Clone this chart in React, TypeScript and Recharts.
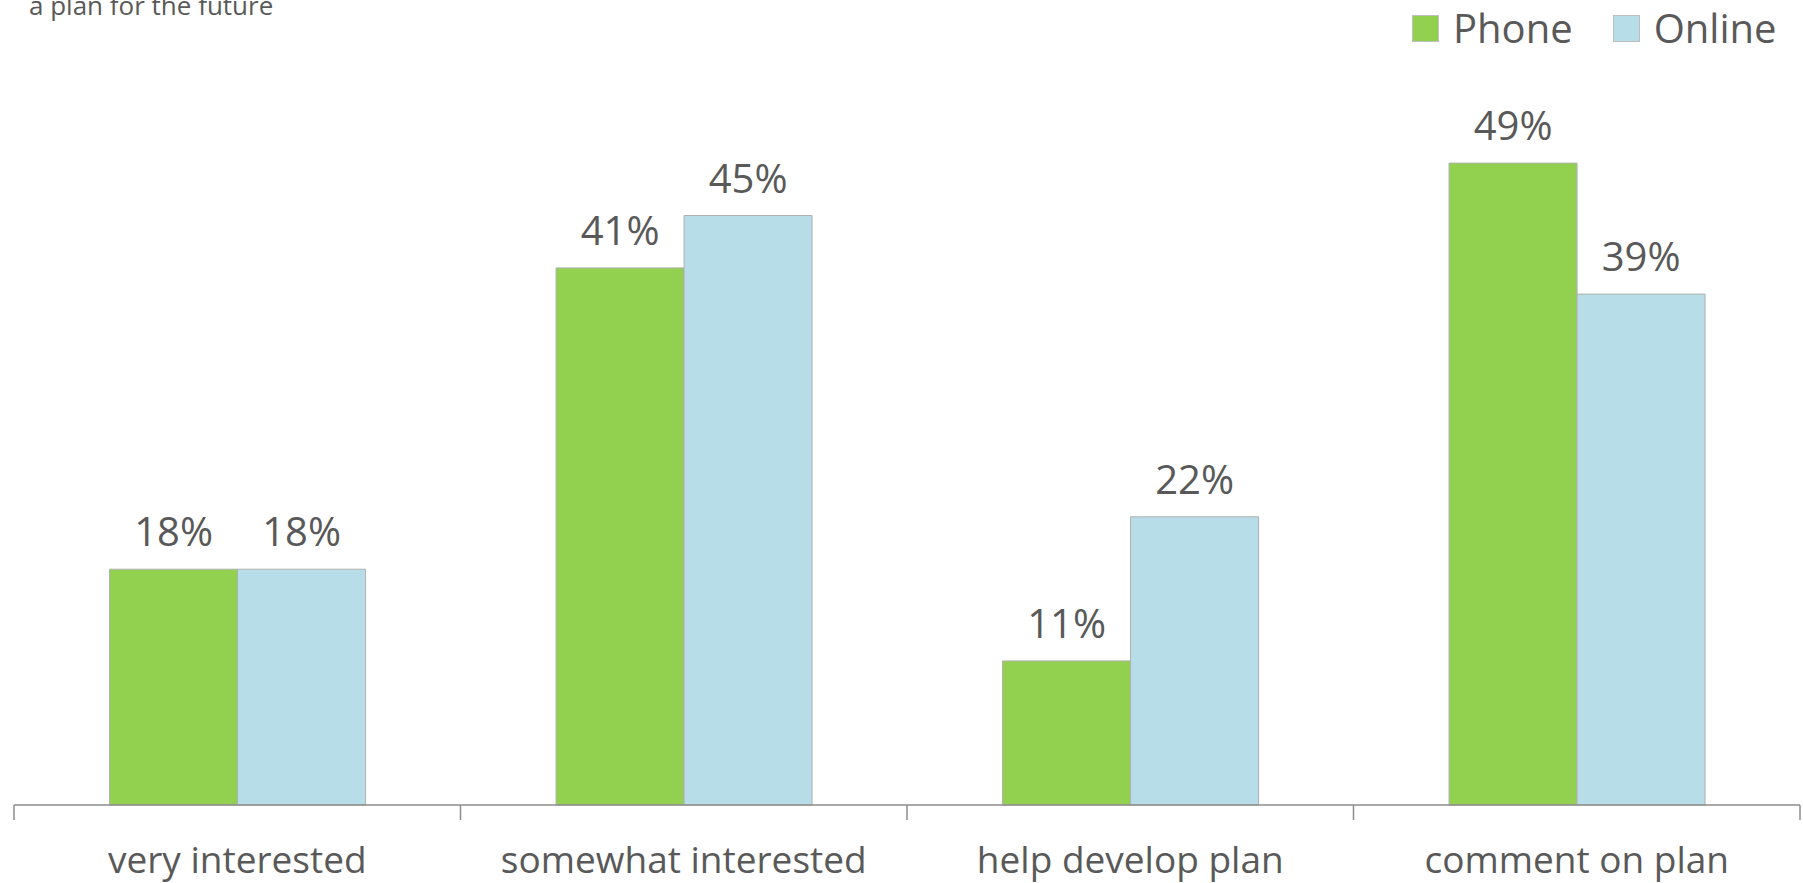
import { BarChart, Bar, XAxis, YAxis, LabelList } from 'recharts'

const categories = ['very interested', 'somewhat interested', 'help develop plan', 'comment on plan']
const phone = [18, 41, 11, 49]
const online = [18, 45, 22, 39]
const seriesNames = ['Phone', 'Online']
const colors = ['#92d050', '#b7dde8']

const data = categories.map((name, i) => ({ name, phone: phone[i], online: online[i] }))

const WIDTH = 1803
const HEIGHT = 883
const MARGIN = { top: 150, right: 3, left: 14, bottom: 0 }
const FONT = '"Open Sans", sans-serif'
const TEXT = '#595959'
const AXIS = '#8c8c8c'

const step = (WIDTH - MARGIN.left - MARGIN.right) / categories.length

function CategoryTick(props: any) {
  const { x, y, payload, index } = props
  const left = x - step / 2
  const right = x + step / 2
  return (
    <g>
      <line x1={left} y1={y} x2={left} y2={y + 15} stroke={AXIS} strokeWidth={1.5} />
      {index === categories.length - 1 && (
        <line x1={right} y1={y} x2={right} y2={y + 15} stroke={AXIS} strokeWidth={1.5} />
      )}
      <text x={x} y={y + 68} textAnchor="middle" fill={TEXT} fontSize={37} fontFamily={FONT}>
        {payload.value}
      </text>
    </g>
  )
}

function renderLegend() {
  return (
    <div style={{ display: 'flex', alignItems: 'center', fontFamily: FONT, fontSize: 40, color: TEXT, lineHeight: '48px' }}>
      {seriesNames.map((s, i) => (
        <div key={s} style={{ display: 'flex', alignItems: 'center', marginRight: i === 0 ? 40 : 0 }}>
          <span style={{ width: 27, height: 27, background: colors[i], border: '1px solid #bfbfbf', boxSizing: 'border-box', marginRight: 14 }} />
          <span>{s}</span>
        </div>
      ))}
    </div>
  )
}

export default function App() {
  return (
    <div style={{ position: 'absolute', left: 0, top: 0, width: WIDTH, height: HEIGHT, background: '#fff', overflow: 'hidden' }}>
      <div style={{ position: 'absolute', left: 29, top: -8, fontFamily: FONT, fontSize: 26, lineHeight: '26px', color: TEXT, whiteSpace: 'nowrap' }}>
        a plan for the future
      </div>
      <div style={{ position: 'absolute', left: 1412, top: 4 }}>{renderLegend()}</div>
      <BarChart width={WIDTH} height={HEIGHT} data={data} margin={MARGIN} barCategoryGap="21.4%" barGap={0}>
        <XAxis
          dataKey="name"
          height={78}
          axisLine={{ stroke: AXIS, strokeWidth: 1.5 }}
          tickLine={false}
          tickSize={0}
          tickMargin={0}
          interval={0}
          tick={<CategoryTick />}
        />
        <YAxis hide domain={[0, 50]} />
        <Bar dataKey="phone" fill={colors[0]} stroke="#b0b0b0" strokeWidth={1} isAnimationActive={false}>
          <LabelList dataKey="phone" position="top" offset={23} fill={TEXT} fontSize={40} fontFamily={FONT} formatter={(v: any) => `${v}%`} />
        </Bar>
        <Bar dataKey="online" fill={colors[1]} stroke="#b0b0b0" strokeWidth={1} isAnimationActive={false}>
          <LabelList dataKey="online" position="top" offset={23} fill={TEXT} fontSize={40} fontFamily={FONT} formatter={(v: any) => `${v}%`} />
        </Bar>
      </BarChart>
    </div>
  )
}
